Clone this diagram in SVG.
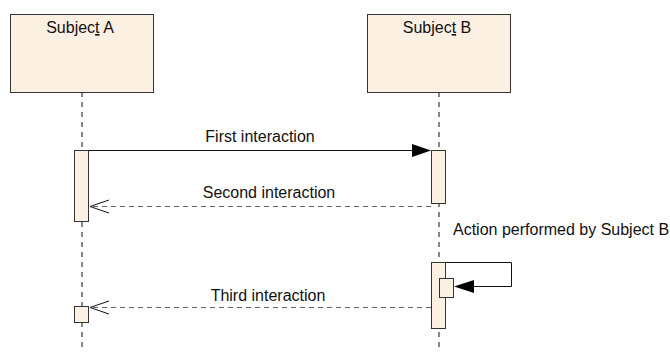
<svg xmlns="http://www.w3.org/2000/svg" width="670" height="352" viewBox="0 0 670 352">
  <style>
    text { font-family: "Liberation Sans", Arial, sans-serif; font-size: 16px; fill: #111; }
    .box { fill: #fbf0e2; stroke: #333; stroke-width: 1; }
    .lifeline { stroke: #111; stroke-width: 1; stroke-dasharray: 5 5; fill: none; }
    .sync { stroke: #111; stroke-width: 1; fill: none; }
    .reply { stroke: #666; stroke-width: 1; stroke-dasharray: 5 4; fill: none; }
    .open-head { stroke: #111; stroke-width: 1; fill: none; }
    .filled-head { fill: #000; stroke: none; }
  </style>
  <rect width="670" height="352" fill="#ffffff"/>

  <!-- participants with their lifelines -->
  <g id="subject-a">
    <line class="lifeline" x1="82" y1="92" x2="82" y2="352"/>
    <rect class="box" x="10.5" y="14.5" width="143" height="78"/>
    <text x="80" y="33" text-anchor="middle">Subjec<tspan text-decoration="underline">t</tspan> A</text>
  </g>
  <g id="subject-b">
    <line class="lifeline" x1="439" y1="92" x2="439" y2="352"/>
    <rect class="box" x="367.5" y="14.5" width="143" height="78"/>
    <text x="437" y="33" text-anchor="middle">Subjec<tspan text-decoration="underline">t</tspan> B</text>
  </g>

  <!-- activation bars -->
  <g id="activation-a1"><rect class="box" x="74.5" y="150.5" width="14" height="71"/></g>
  <g id="activation-b1"><rect class="box" x="431.5" y="150.5" width="14" height="53"/></g>
  <g id="activation-b2"><rect class="box" x="431.5" y="262.5" width="14" height="66"/></g>
  <g id="activation-b3"><rect class="box" x="439.5" y="278.5" width="14" height="19"/></g>
  <g id="activation-a2"><rect class="box" x="74.5" y="306.5" width="14" height="16"/></g>

  <!-- messages -->
  <g id="connectors">
    <!-- First interaction: A -> B, synchronous -->
    <line class="sync" x1="89" y1="150.5" x2="414" y2="150.5"/>
    <polygon class="filled-head" points="431,150.5 412,144 412,157"/>
    <text x="260" y="142" text-anchor="middle">First interaction</text>

    <!-- Second interaction: B -> A, reply -->
    <line class="reply" x1="431" y1="206.5" x2="90" y2="206.5"/>
    <polyline class="open-head" points="109,200 90,206.5 109,213"/>
    <text x="269" y="198" text-anchor="middle">Second interaction</text>

    <!-- Self call on B -->
    <polyline class="sync" points="446,262.5 511.5,262.5 511.5,286.5 472,286.5"/>
    <polygon class="filled-head" points="454,286.5 474,280 474,293"/>
    <text x="453" y="235">Action performed by Subject B</text>

    <!-- Third interaction: B -> A, reply -->
    <line class="reply" x1="431" y1="307.5" x2="90" y2="307.5"/>
    <polyline class="open-head" points="109,301 90,307.5 109,314"/>
    <text x="268" y="301" text-anchor="middle">Third interaction</text>
  </g>
</svg>
